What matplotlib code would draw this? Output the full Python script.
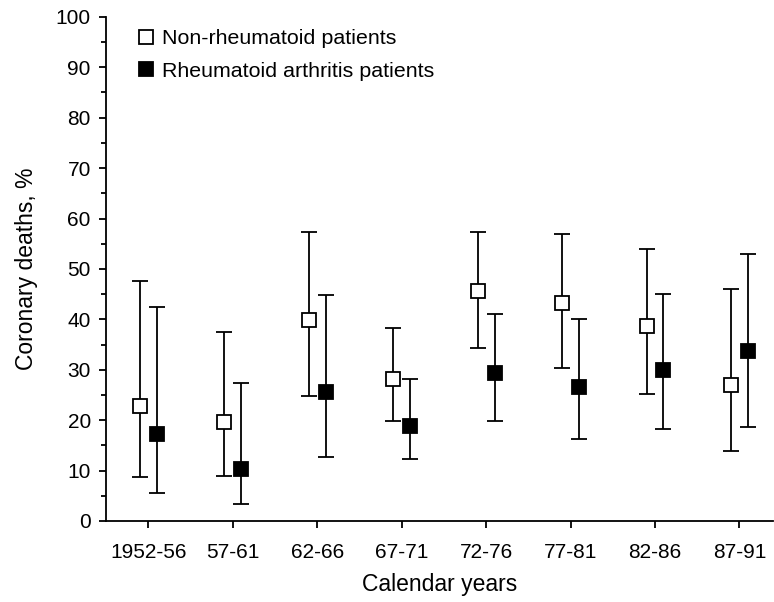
import matplotlib
matplotlib.use("Agg")
import matplotlib.pyplot as plt
import numpy as np
from matplotlib.ticker import MultipleLocator

plt.rcParams['font.family'] = ['Liberation Sans', 'DejaVu Sans']

periods = ["1952-56", "57-61", "62-66", "67-71", "72-76", "77-81", "82-86", "87-91"]

non_ra = [22.8, 19.6, 39.9, 28.2, 45.6, 43.2, 38.7, 27.0]
non_ra_low = [8.7, 8.9, 24.7, 19.9, 34.3, 30.4, 25.2, 13.9]
non_ra_high = [47.7, 37.5, 57.4, 38.2, 57.4, 56.9, 54.0, 46.1]

ra = [17.3, 10.3, 25.5, 18.9, 29.3, 26.5, 30.0, 33.7]
ra_low = [5.5, 3.3, 12.6, 12.2, 19.8, 16.2, 18.2, 18.7]
ra_high = [42.5, 27.4, 44.9, 28.2, 41.1, 40.0, 45.1, 53.0]

x = np.arange(len(periods))
offset = 0.1

fig = plt.figure(figsize=(7.74, 6.02), dpi=100)
ax = fig.add_axes([0.137, 0.1346, 0.862, 0.8374])

def draw(xpos, vals, lo, hi, face, label):
    vals = np.array(vals)
    yerr = np.vstack([vals - np.array(lo), np.array(hi) - vals])
    ax.errorbar(xpos, vals, yerr=yerr, fmt='s', ms=9.5, mfc=face, mec='black',
                mew=1.3, ecolor='black', elinewidth=1.3, capsize=5.8,
                capthick=1.3, label=label, zorder=3)

draw(x - offset, non_ra, non_ra_low, non_ra_high, 'white', 'Non-rheumatoid patients')
draw(x + offset, ra, ra_low, ra_high, 'black', 'Rheumatoid arthritis patients')

ax.set_xlim(-0.5, 7.4)
ax.set_ylim(0, 100)
ax.set_xticks(x)
ax.set_xticklabels(periods)
ax.yaxis.set_major_locator(MultipleLocator(10))
ax.yaxis.set_minor_locator(MultipleLocator(5))
ax.tick_params(axis='both', which='major', labelsize=15, length=5, width=1.3,
               direction='out', pad=6)
ax.tick_params(axis='x', which='major', pad=11)
ax.tick_params(axis='y', which='minor', length=3.5, width=1.3, direction='out')
for s in ['top', 'right']:
    ax.spines[s].set_visible(False)
for s in ['left', 'bottom']:
    ax.spines[s].set_linewidth(1.3)

ax.set_ylabel("Coronary deaths, %", fontsize=16.5, labelpad=13)
ax.set_xlabel("Calendar years", fontsize=16.5, labelpad=8)

handles = [
    plt.Line2D([], [], marker='s', ls='none', ms=9.5, mfc='white', mec='black', mew=1.3),
    plt.Line2D([], [], marker='s', ls='none', ms=9.5, mfc='black', mec='black', mew=1.3),
]
ax.legend(handles, ['Non-rheumatoid patients', 'Rheumatoid arthritis patients'],
          loc='upper left', bbox_to_anchor=(0.025, 1.005), frameon=False,
          fontsize=15.4, handlelength=0.8, handletextpad=0.35, labelspacing=0.62,
          borderaxespad=0.3)

fig.savefig("out.png", dpi=100)
